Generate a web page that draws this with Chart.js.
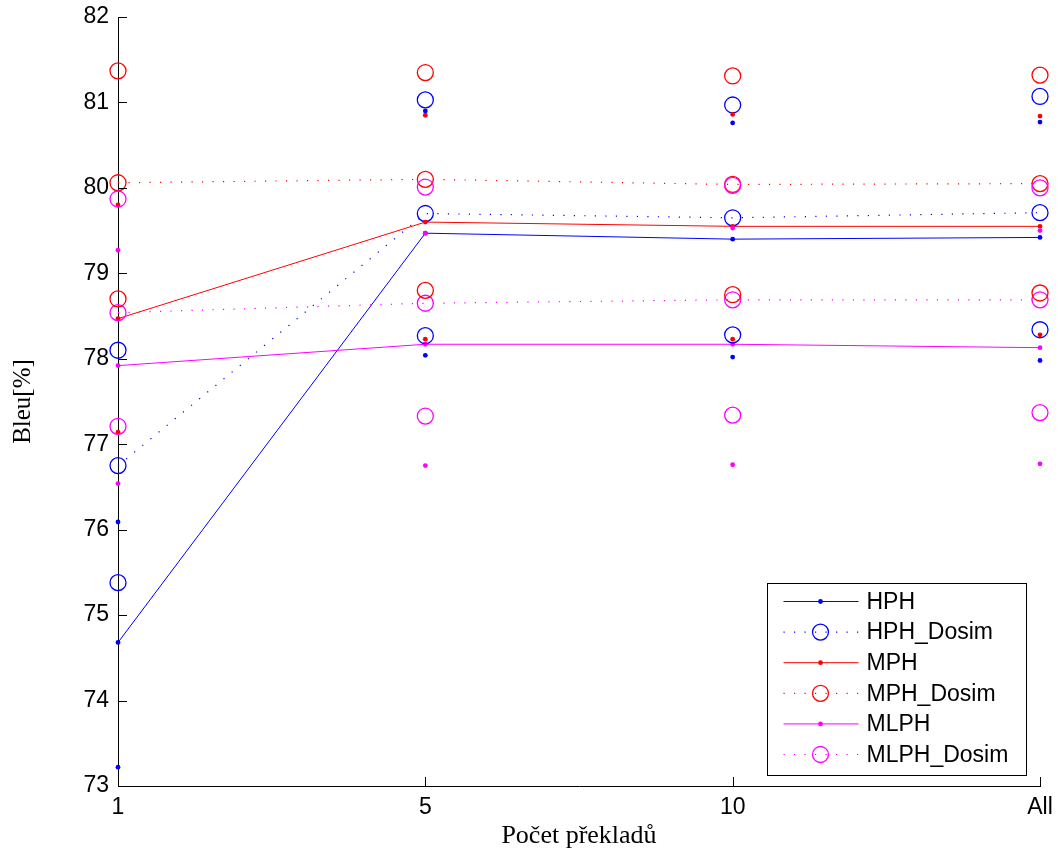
<!DOCTYPE html>
<html>
<head>
<meta charset="utf-8">
<script src="https://cdn.jsdelivr.net/npm/chart.js@4"></script>
<style>
    body { margin: 0; background: #fff; }
    #wrap { width: 1058px; height: 852px; }
</style>
</head>
<body>
<div id="wrap"><canvas id="bleuChart" width="1058" height="852"></canvas></div>
<script>
// x categories and y ticks
const categories = ['1', '5', '10', 'All'];
const yTicks = [73, 74, 75, 76, 77, 78, 79, 80, 81, 82];

// mean values (drawn as lines) and their lower / upper points
const hph          = [74.68, 79.47, 79.40, 79.42];
const hphLow       = [73.22, 78.04, 78.02, 77.98];
const hphHigh      = [76.09, 80.90, 80.76, 80.77];
const hphDosim     = [76.75, 79.70, 79.65, 79.71];
const hphDosimLow  = [75.38, 78.27, 78.28, 78.34];
const hphDosimHigh = [78.10, 81.03, 80.97, 81.07];

const mph          = [78.47, 79.60, 79.55, 79.55];
const mphLow       = [77.14, 78.23, 78.23, 78.28];
const mphHigh      = [79.80, 80.85, 80.86, 80.84];
const mphDosim     = [80.06, 80.10, 80.04, 80.05];
const mphDosimLow  = [78.70, 78.80, 78.75, 78.77];
const mphDosimHigh = [81.37, 81.35, 81.31, 81.32];

const mlph          = [77.92, 78.17, 78.17, 78.13];
const mlphLow       = [76.54, 76.75, 76.76, 76.77];
const mlphHigh      = [79.27, 79.47, 79.53, 79.50];
const mlphDosim     = [78.54, 78.65, 78.69, 78.69];
const mlphDosimLow  = [77.21, 77.33, 77.34, 77.37];
const mlphDosimHigh = [79.87, 80.01, 80.03, 80.00];

const BLUE = '#0000ff';
const RED = '#ff0000';
const MAGENTA = '#ff00ff';

/**
 * Builds a dataset. Dosim series use dotted lines with open circles,
 * the others solid lines with small dots.
 */
function makeSeries(label, data, color, dosim, showLine, inLegend) {
    return {
        label: label,
        data: data,
        inLegend: inLegend,
        showLine: showLine,
        borderColor: color,
        backgroundColor: color,
        borderWidth: dosim ? 1.2 : 1,
        borderDash: dosim ? [1.2, 9.3] : [],
        tension: 0,
        fill: false,
        clip: false,
        pointStyle: 'circle',
        pointRadius: dosim ? 8 : 2.4,
        pointHoverRadius: dosim ? 8 : 2.4,
        pointBorderWidth: dosim ? 1.3 : 0,
        pointBorderColor: color,
        pointBackgroundColor: dosim ? 'rgba(0,0,0,0)' : color
    };
}

const datasets = [
    makeSeries('HPH', hph, BLUE, false, true, true),
    makeSeries('HPH_Dosim', hphDosim, BLUE, true, true, true),
    makeSeries('MPH', mph, RED, false, true, true),
    makeSeries('MPH_Dosim', mphDosim, RED, true, true, true),
    makeSeries('MLPH', mlph, MAGENTA, false, true, true),
    makeSeries('MLPH_Dosim', mlphDosim, MAGENTA, true, true, true),
    makeSeries('', hphLow, BLUE, false, false, false),
    makeSeries('', hphHigh, BLUE, false, false, false),
    makeSeries('', hphDosimLow, BLUE, true, false, false),
    makeSeries('', hphDosimHigh, BLUE, true, false, false),
    makeSeries('', mphLow, RED, false, false, false),
    makeSeries('', mphHigh, RED, false, false, false),
    makeSeries('', mphDosimLow, RED, true, false, false),
    makeSeries('', mphDosimHigh, RED, true, false, false),
    makeSeries('', mlphLow, MAGENTA, false, false, false),
    makeSeries('', mlphHigh, MAGENTA, false, false, false),
    makeSeries('', mlphDosimLow, MAGENTA, true, false, false),
    makeSeries('', mlphDosimHigh, MAGENTA, true, false, false)
];
// later datasets on top, like the original plot
datasets.forEach((ds, i) => { ds.order = -i; });

/**
 * Tick marks pointing into the plot.
 */
const inwardTicks = {
    id: 'inwardTicks',
    afterDatasetsDraw(chart) {
        const {ctx, chartArea, scales} = chart;
        ctx.save();
        ctx.strokeStyle = '#000';
        ctx.lineWidth = 1;
        ctx.beginPath();
        scales.y.ticks.forEach(t => {
            const py = Math.round(scales.y.getPixelForValue(t.value)) + 0.5;
            ctx.moveTo(chartArea.left, py);
            ctx.lineTo(chartArea.left + 9, py);
        });
        scales.x.ticks.forEach((t, i) => {
            const px = Math.round(scales.x.getPixelForTick(i)) + 0.5;
            ctx.moveTo(px, chartArea.bottom);
            ctx.lineTo(px, chartArea.bottom - 9);
        });
        ctx.stroke();
        ctx.restore();
    }
};

/**
 * Boxed legend in the lower right corner with line + marker samples.
 */
const legendBox = {
    id: 'legendBox',
    afterDatasetsDraw(chart) {
        const {ctx, chartArea} = chart;
        const w = 259, h = 192;
        const x0 = Math.round(chartArea.right - 14 - w) + 0.5;
        const y0 = Math.round(chartArea.bottom - 11 - h) + 0.5;
        ctx.save();
        ctx.fillStyle = '#fff';
        ctx.fillRect(x0, y0, w, h);
        ctx.strokeStyle = '#000';
        ctx.lineWidth = 1;
        ctx.strokeRect(x0, y0, w, h);

        const items = chart.data.datasets.filter(ds => ds.inLegend);
        items.forEach((ds, i) => {
            const y = y0 + 18 + i * 30.6;
            ctx.strokeStyle = ds.borderColor;
            ctx.lineWidth = ds.borderWidth;
            ctx.setLineDash(ds.borderDash);
            ctx.beginPath();
            ctx.moveTo(x0 + 16, y);
            ctx.lineTo(x0 + 91, y);
            ctx.stroke();
            ctx.setLineDash([]);

            ctx.beginPath();
            ctx.arc(x0 + 53, y, ds.pointRadius, 0, Math.PI * 2);
            if (ds.pointBorderWidth > 0) {
                ctx.lineWidth = ds.pointBorderWidth;
                ctx.strokeStyle = ds.pointBorderColor;
                ctx.stroke();
            } else {
                ctx.fillStyle = ds.pointBackgroundColor;
                ctx.fill();
            }

            ctx.fillStyle = '#000';
            ctx.font = '23px "Liberation Sans", Arial, sans-serif';
            ctx.textBaseline = 'middle';
            ctx.textAlign = 'left';
            ctx.fillText(ds.label, x0 + 99, y + 1);
        });
        ctx.restore();
    }
};

const ctx = document.getElementById('bleuChart').getContext('2d');
new Chart(ctx, {
    type: 'line',
    data: {
        labels: categories,
        datasets: datasets
    },
    options: {
        responsive: false,
        animation: false,
        layout: {
            padding: { left: 0, right: 18, top: 17, bottom: 0 }
        },
        scales: {
            x: {
                type: 'category',
                offset: false,
                grid: { display: false, drawTicks: false },
                border: { display: true, color: '#000', width: 1 },
                ticks: {
                    color: '#000',
                    padding: 8,
                    maxRotation: 0,
                    autoSkip: false,
                    font: { family: '"Liberation Sans", Arial, sans-serif', size: 23 }
                },
                title: {
                    display: true,
                    text: 'Počet překladů',
                    color: '#000',
                    padding: { top: 0, bottom: 0 },
                    font: { family: '"Liberation Serif", "Times New Roman", serif', size: 26 }
                },
                afterFit(scale) {
                    scale.height = 66;
                    scale.paddingLeft = 0;
                    scale.paddingRight = 0;
                }
            },
            y: {
                min: 73,
                max: 82,
                grid: { display: false, drawTicks: false },
                border: { display: true, color: '#000', width: 1 },
                afterBuildTicks(scale) {
                    scale.ticks = yTicks.map(v => ({ value: v }));
                },
                ticks: {
                    color: '#000',
                    padding: 9,
                    font: { family: '"Liberation Sans", Arial, sans-serif', size: 23 }
                },
                title: {
                    display: true,
                    text: 'Bleu[%]',
                    color: '#000',
                    padding: { top: 8, bottom: 0 },
                    font: { family: '"Liberation Serif", "Times New Roman", serif', size: 25 }
                },
                afterFit(scale) {
                    scale.width = 118;
                    scale.paddingTop = 0;
                    scale.paddingBottom = 0;
                }
            }
        },
        plugins: {
            legend: { display: false },
            tooltip: { enabled: false }
        }
    },
    plugins: [inwardTicks, legendBox]
});
</script>
</body>
</html>
